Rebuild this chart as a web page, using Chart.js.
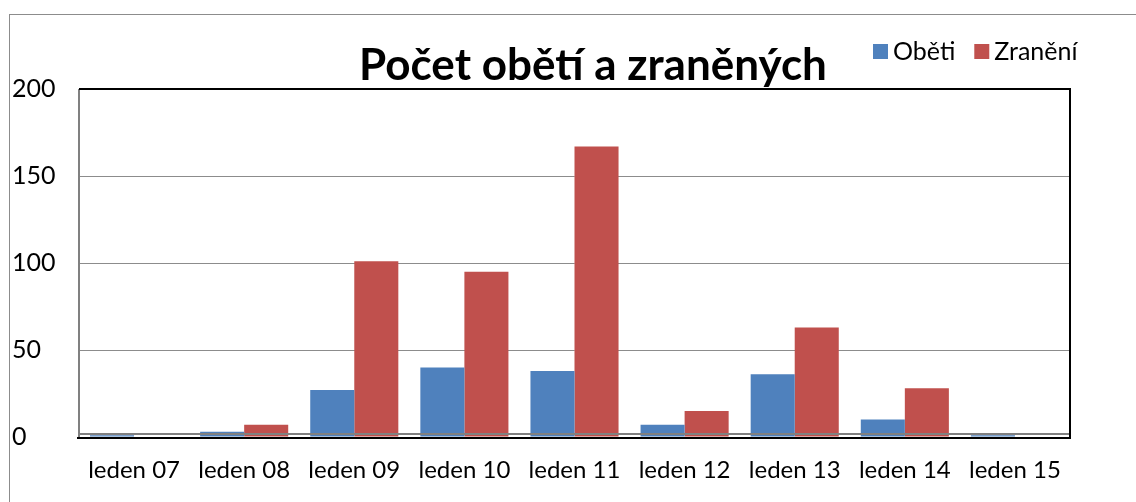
<!DOCTYPE html>
<html>
<head>
<meta charset="utf-8">
<script src="https://cdn.jsdelivr.net/npm/chart.js@4"></script>
<style>
  html, body { margin: 0; padding: 0; background: #fff; }
  #wrap { position: relative; width: 1136px; height: 502px; overflow: hidden; }
  #frame { position: absolute; left: 9px; top: 14px; width: 1200px; height: 600px; border: 1px solid #8c8c8c; }
  canvas { position: absolute; left: 0; top: 0; }
</style>
</head>
<body>
<div id="wrap">
  <div id="frame"></div>
  <canvas id="chart" width="1136" height="502"></canvas>
</div>
<script>
// data
const months = ['leden 07', 'leden 08', 'leden 09', 'leden 10', 'leden 11', 'leden 12', 'leden 13', 'leden 14', 'leden 15'];
const obeti = [1, 3, 27, 40, 38, 7, 36, 10, 1];
const zraneni = [0, 7, 101, 95, 167, 15, 63, 28, 0];
const yTicks = [0, 50, 100, 150, 200];
const chartTitle = 'Počet obětí a zraněných';

const FONT = 'Lato, "Open Sans", sans-serif';

// title + legend sit side by side at the top, so draw them ourselves
const headerPlugin = {
    id: 'header',
    afterDraw(chart) {
        const ctx = chart.ctx;
        ctx.save();
        ctx.fillStyle = '#000';
        ctx.textBaseline = 'middle';
        ctx.textAlign = 'center';
        ctx.font = 'bold 44px ' + FONT;
        ctx.fillText(chartTitle, 593, 66);

        // legend
        ctx.font = '25px ' + FONT;
        ctx.textAlign = 'left';
        let x = 873;
        chart.data.datasets.forEach(ds => {
            ctx.fillStyle = ds.backgroundColor;
            ctx.fillRect(x, 44, 15, 15);
            ctx.fillStyle = '#000';
            ctx.fillText(ds.label, x + 20, 52);
            x += 20 + ctx.measureText(ds.label).width + 19;
        });
        ctx.restore();
    }
};

// black frame round the plot area, grey axis lines
const framePlugin = {
    id: 'plotFrame',
    afterDatasetsDraw(chart) {
        const a = chart.chartArea;
        const ctx = chart.ctx;
        ctx.save();
        ctx.strokeStyle = '#808080';
        ctx.lineWidth = 2;
        ctx.beginPath();
        ctx.moveTo(a.left, a.top);
        ctx.lineTo(a.left, a.bottom);
        ctx.moveTo(a.left, a.bottom - 3);
        ctx.lineTo(a.right, a.bottom - 3);
        ctx.stroke();
        ctx.strokeStyle = '#000';
        ctx.beginPath();
        ctx.moveTo(a.left, a.top);
        ctx.lineTo(a.right, a.top);
        ctx.lineTo(a.right, a.bottom + 1);
        ctx.lineTo(a.left - 2, a.bottom + 1);
        ctx.stroke();
        ctx.restore();
    }
};

new Chart(document.getElementById('chart').getContext('2d'), {
    type: 'bar',
    data: {
        labels: months,
        datasets: [{
            label: 'Oběti',
            data: obeti,
            backgroundColor: '#4F81BD',
            barPercentage: 1,
            categoryPercentage: 0.8
        }, {
            label: 'Zranění',
            data: zraneni,
            backgroundColor: '#C0504D',
            barPercentage: 1,
            categoryPercentage: 0.8
        }]
    },
    options: {
        responsive: false,
        animation: false,
        layout: { padding: { top: 89, left: 12, right: 66, bottom: 0 } },
        plugins: {
            legend: { display: false },
            title: { display: false },
            tooltip: { enabled: false }
        },
        scales: {
            x: {
                grid: { display: false, drawTicks: false },
                border: { display: false },
                ticks: { color: '#000', font: { family: FONT, size: 24 }, padding: 19, maxRotation: 0 },
                afterFit(scale) { scale.height = 65; }
            },
            y: {
                min: 0,
                max: 200,
                afterBuildTicks(scale) { scale.ticks = yTicks.map(v => ({ value: v })); },
                grid: { color: '#8c8c8c', lineWidth: 1, drawTicks: false },
                border: { display: false },
                ticks: { color: '#000', font: { family: FONT, size: 25 }, crossAlign: 'far', padding: 0 },
                afterFit(scale) { scale.width = 67; }
            }
        }
    },
    plugins: [headerPlugin, framePlugin]
});
</script>
</body>
</html>
